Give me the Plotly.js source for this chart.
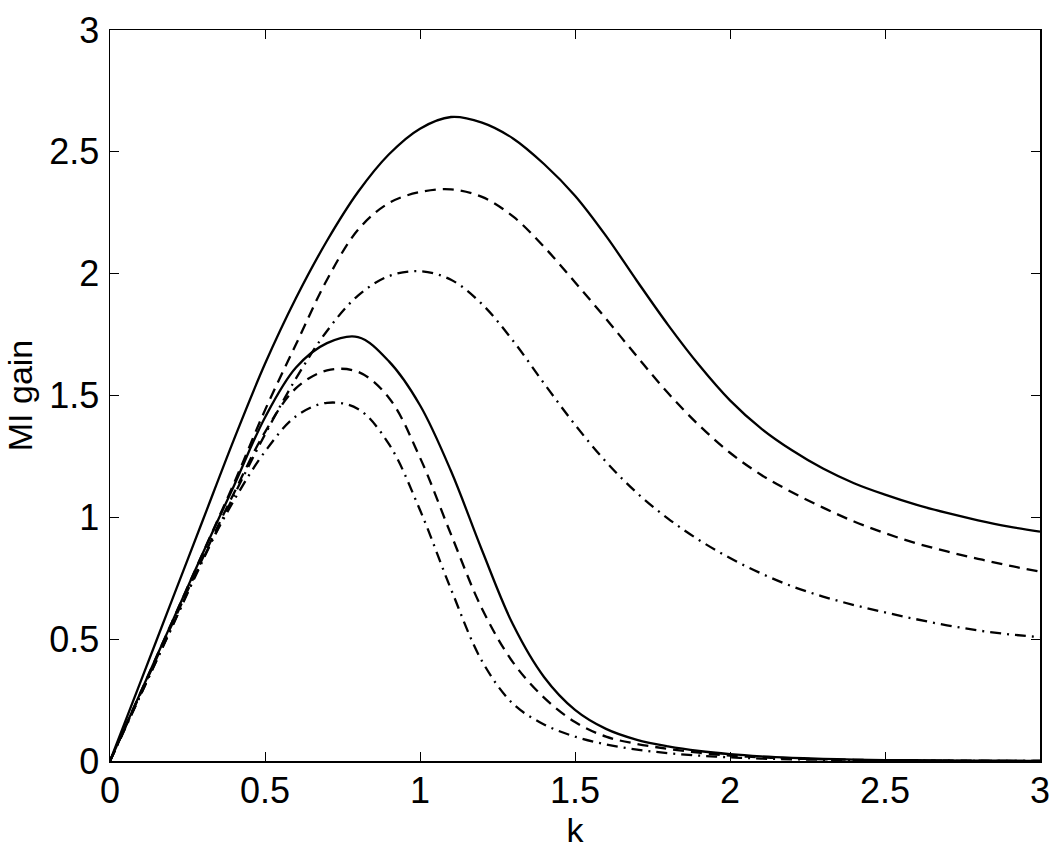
<!DOCTYPE html>
<html>
<head>
<meta charset="utf-8">
<script src="https://cdn.plot.ly/plotly-3.0.1.min.js"></script>
<style>
  html, body { margin: 0; padding: 0; background: #fff; }
  #myDiv { width: 1058px; height: 854px; }
</style>
</head>
<body>
<div id="myDiv"></div>
<script>
// wave number k (common grid for all six curves)
const kValues = [0, 0.1, 0.2, 0.3, 0.4, 0.5, 0.6, 0.7, 0.8, 0.9, 1.0,
  1.1, 1.2, 1.3, 1.4, 1.5, 1.6, 1.7, 1.8, 1.9, 2.0,
  2.1, 2.2, 2.3, 2.4, 2.5, 2.6, 2.7, 2.8, 2.9, 3.0];

// upper family
const upperSolid = [0, 0.33, 0.66, 0.99, 1.32, 1.63, 1.90, 2.135, 2.335, 2.49, 2.595,
  2.643, 2.62, 2.555, 2.45, 2.32, 2.155, 1.97, 1.79, 1.625, 1.48,
  1.365, 1.275, 1.20, 1.14, 1.093, 1.052, 1.018, 0.988, 0.962, 0.941];
const upperDashed = [0, 0.285, 0.57, 0.855, 1.14, 1.44, 1.71, 1.975, 2.18, 2.29, 2.335,
  2.346, 2.315, 2.235, 2.11, 1.965, 1.815, 1.66, 1.51, 1.378, 1.265,
  1.175, 1.103, 1.04, 0.983, 0.935, 0.894, 0.86, 0.83, 0.802, 0.777];
const upperDashDot = [0, 0.275, 0.55, 0.825, 1.09, 1.34, 1.57, 1.765, 1.91, 1.99, 2.01,
  1.975, 1.875, 1.725, 1.55, 1.38, 1.228, 1.10, 0.995, 0.907, 0.833,
  0.77, 0.717, 0.675, 0.64, 0.61, 0.582, 0.557, 0.536, 0.52, 0.508];

// lower family
const lowerSolid = [0, 0.285, 0.57, 0.855, 1.13, 1.41, 1.615, 1.715, 1.74, 1.64, 1.46,
  1.19, 0.865, 0.56, 0.345, 0.21, 0.132, 0.087, 0.06, 0.041, 0.028,
  0.019, 0.013, 0.009, 0.006, 0.004, 0.003, 0.002, 0.001, 0.001, 0];
const lowerDashed = [0, 0.28, 0.56, 0.835, 1.10, 1.35, 1.53, 1.603, 1.597, 1.49, 1.245,
  0.93, 0.625, 0.405, 0.26, 0.16, 0.10, 0.07, 0.05, 0.034, 0.022,
  0.015, 0.01, 0.007, 0.005, 0.003, 0.002, 0.001, 0.001, 0, 0];
const lowerDashDot = [0, 0.275, 0.55, 0.83, 1.07, 1.27, 1.415, 1.47, 1.445, 1.30, 1.03,
  0.705, 0.41, 0.235, 0.15, 0.10, 0.068, 0.047, 0.032, 0.022, 0.015,
  0.01, 0.007, 0.005, 0.003, 0.002, 0.001, 0.001, 0, 0, 0];

const tickVals = [0, 0.5, 1, 1.5, 2, 2.5, 3];

const DASH = "11px,7px";
const DASHDOT = "11px,6px,2px,6px";

function curva(y, dash) {
  return {
    x: kValues,
    y: y,
    type: "scatter",
    mode: "lines",
    line: { color: "#000", width: 2.3, dash: dash, shape: "spline", smoothing: 1 },
    hoverinfo: "x+y"
  };
}

const dataGrafica = [
  curva(upperSolid, "solid"),
  curva(upperDashed, DASH),
  curva(upperDashDot, DASHDOT),
  curva(lowerSolid, "solid"),
  curva(lowerDashed, DASH),
  curva(lowerDashDot, DASHDOT)
];

const fuente = { family: "Liberation Sans, Arial, sans-serif", size: 36, color: "#000" };

const ejeComun = {
  range: [0, 3],
  tickvals: tickVals,
  ticks: "inside",
  ticklen: 9,
  tickwidth: 1,
  tickcolor: "#000",
  showline: true,
  linecolor: "#000",
  linewidth: 1.5,
  mirror: "ticks",
  showgrid: false,
  zeroline: false,
  tickfont: fuente
};

const layout = {
  width: 1058,
  height: 854,
  margin: { l: 110, r: 18, t: 30, b: 93 },
  paper_bgcolor: "#fff",
  plot_bgcolor: "#fff",
  showlegend: false,
  xaxis: Object.assign({}, ejeComun, {
    title: { text: "k", font: { family: fuente.family, size: 34, color: "#000" }, standoff: 0 },
    ticklabelstandoff: -3
  }),
  yaxis: Object.assign({}, ejeComun, {
    title: { text: "MI gain", font: { family: fuente.family, size: 34, color: "#000" }, standoff: 6 },
    ticklabelstandoff: 2
  })
};

Plotly.newPlot("myDiv", dataGrafica, layout, { displayModeBar: false, staticPlot: true });
</script>
</body>
</html>
